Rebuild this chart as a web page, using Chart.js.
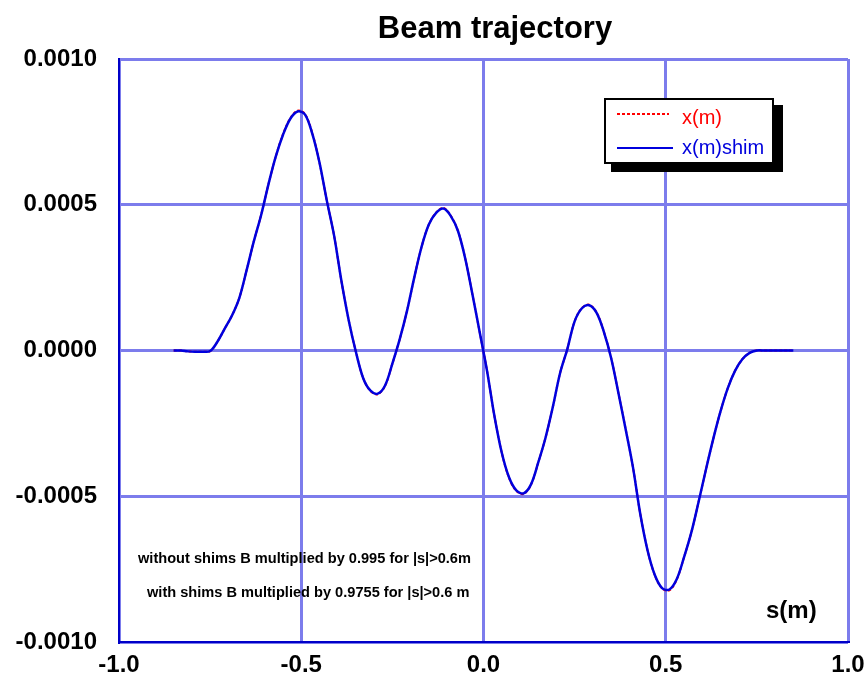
<!DOCTYPE html>
<html>
<head>
<meta charset="utf-8">
<script src="https://cdn.jsdelivr.net/npm/chart.js@4.4.1/dist/chart.umd.min.js"></script>
<style>
  html, body { margin: 0; padding: 0; background: #fff; }
  #wrap { width: 867px; height: 689px; position: relative; }
</style>
</head>
<body>
<div id="wrap"><canvas id="trajChart"></canvas></div>
<script>
// s positions (m)
const sPos = [
  -0.85, -0.83, -0.81, -0.79, -0.77, -0.75, -0.73, -0.71, -0.69, -0.67,
  -0.65, -0.63, -0.61, -0.59, -0.57, -0.55, -0.53, -0.51, -0.49, -0.47,
  -0.45, -0.43, -0.41, -0.39, -0.37, -0.35, -0.33, -0.31, -0.29, -0.27,
  -0.25, -0.23, -0.21, -0.19, -0.17, -0.15, -0.13, -0.11, -0.09, -0.07,
  -0.05, -0.03, -0.01, 0.01, 0.03, 0.05, 0.07, 0.09, 0.11, 0.13,
  0.15, 0.17, 0.19, 0.21, 0.23, 0.25, 0.27, 0.29, 0.31, 0.33,
  0.35, 0.37, 0.39, 0.41, 0.43, 0.45, 0.47, 0.49, 0.51, 0.53,
  0.55, 0.57, 0.59, 0.61, 0.63, 0.65, 0.67, 0.69, 0.71, 0.73,
  0.75, 0.77, 0.79, 0.81, 0.83, 0.85
];

// x(m) without shims
const xm = [
  0, 0, -0.000003, -0.000004, -0.000004, -0.000002, 0.000030, 0.000075, 0.000120, 0.000180,
  0.000275, 0.000375, 0.000465, 0.000570, 0.000665, 0.000742, 0.000797, 0.000823, 0.000812, 0.000747,
  0.000645, 0.000515, 0.000395, 0.000240, 0.000105, -0.000005, -0.000095, -0.000139, -0.000150, -0.000121,
  -0.000045, 0.000038, 0.000135, 0.000250, 0.000355, 0.000432, 0.000473, 0.000489, 0.000463, 0.000410,
  0.000315, 0.000190, 0.000060, -0.000072, -0.000225, -0.000350, -0.000437, -0.000482, -0.000492, -0.000461,
  -0.000385, -0.000300, -0.000195, -0.000078, 0.000005, 0.000100, 0.000146, 0.000157, 0.000131, 0.000065,
  -0.000025, -0.000145, -0.000270, -0.000400, -0.000560, -0.000685, -0.000771, -0.000816, -0.000823, -0.000786,
  -0.000710, -0.000625, -0.000520, -0.000410, -0.000305, -0.000210, -0.000130, -0.000070, -0.000030, -0.000008,
  0, 0, 0, 0, 0, 0
];

// x(m)shim
const xmShim = [
  0, 0, -0.000003, -0.000004, -0.000004, -0.000002, 0.000030, 0.000075, 0.000120, 0.000180,
  0.000275, 0.000375, 0.000465, 0.000570, 0.000665, 0.000740, 0.000795, 0.000820, 0.000810, 0.000745,
  0.000645, 0.000515, 0.000395, 0.000240, 0.000105, -0.000005, -0.000095, -0.000138, -0.000148, -0.000120,
  -0.000045, 0.000038, 0.000135, 0.000250, 0.000355, 0.000432, 0.000472, 0.000487, 0.000462, 0.000410,
  0.000315, 0.000190, 0.000060, -0.000072, -0.000225, -0.000350, -0.000435, -0.000480, -0.000490, -0.000460,
  -0.000385, -0.000300, -0.000195, -0.000078, 0.000005, 0.000100, 0.000145, 0.000155, 0.000130, 0.000065,
  -0.000025, -0.000145, -0.000270, -0.000400, -0.000560, -0.000685, -0.000770, -0.000815, -0.000820, -0.000785,
  -0.000710, -0.000625, -0.000520, -0.000410, -0.000305, -0.000210, -0.000130, -0.000070, -0.000030, -0.000008,
  0, 0, 0, 0, 0, 0
];

const xTicks = [-1.0, -0.5, 0.0, 0.5, 1.0];
const yTicks = [-0.0010, -0.0005, 0.0000, 0.0005, 0.0010];

const notes = [
  'without shims B multiplied by 0.995 for |s|>0.6m',
  'with shims B multiplied by 0.9755 for |s|>0.6 m'
];

const toPoints = vals => sPos.map((s, i) => ({ x: s, y: vals[i] }));

// title, notes, axis label and the boxed legend
const decorations = {
  id: 'decorations',
  afterDraw(chart) {
    const ctx = chart.ctx;
    ctx.save();
    ctx.fillStyle = '#000';
    ctx.textAlign = 'center';
    ctx.textBaseline = 'alphabetic';
    ctx.font = 'bold 31px Arial, "Liberation Sans", sans-serif';
    ctx.fillText('Beam trajectory', 495, 38);

    ctx.textAlign = 'left';
    ctx.font = 'bold 14.6px Arial, "Liberation Sans", sans-serif';
    ctx.fillText(notes[0], 138, 563);
    ctx.fillText(notes[1], 147, 597);

    ctx.font = 'bold 24px Arial, "Liberation Sans", sans-serif';
    ctx.fillText('s(m)', 766, 618);

    // legend box with shadow
    ctx.fillStyle = '#000';
    ctx.fillRect(611, 105, 172, 67);
    ctx.fillStyle = '#fff';
    ctx.fillRect(604, 98, 170, 66);
    ctx.strokeStyle = '#000';
    ctx.lineWidth = 2;
    ctx.strokeRect(605, 99, 168, 64);

    ctx.lineWidth = 2;
    ctx.strokeStyle = '#ff0000';
    ctx.setLineDash([3, 2]);
    ctx.beginPath();
    ctx.moveTo(617, 114);
    ctx.lineTo(669, 114);
    ctx.stroke();
    ctx.setLineDash([]);
    ctx.strokeStyle = '#0000dd';
    ctx.beginPath();
    ctx.moveTo(617, 148);
    ctx.lineTo(673, 148);
    ctx.stroke();

    ctx.font = '20px Arial, "Liberation Sans", sans-serif';
    ctx.textBaseline = 'middle';
    ctx.fillStyle = '#ff0000';
    ctx.fillText('x(m)', 682, 118);
    ctx.fillStyle = '#0000dd';
    ctx.fillText('x(m)shim', 682, 148);
    ctx.restore();
  }
};

const tickFont = { family: 'Arial, "Liberation Sans", sans-serif', size: 24, weight: 'bold' };

new Chart(document.getElementById('trajChart'), {
  type: 'line',
  data: {
    datasets: [
      {
        label: 'x(m)',
        data: toPoints(xm),
        borderColor: '#ff0000',
        borderWidth: 2,
        borderDash: [3, 2],
        pointRadius: 0,
        tension: 0.35,
        order: 2
      },
      {
        label: 'x(m)shim',
        data: toPoints(xmShim),
        borderColor: '#0000dd',
        borderWidth: 2.5,
        pointRadius: 0,
        tension: 0.35,
        order: 1
      }
    ]
  },
  options: {
    responsive: true,
    maintainAspectRatio: false,
    animation: false,
    layout: { padding: { top: 59, right: 19, left: 0, bottom: 0 } },
    plugins: {
      legend: { display: false },
      title: { display: false },
      tooltip: { enabled: false }
    },
    scales: {
      x: {
        type: 'linear',
        min: -1,
        max: 1,
        afterFit(scale) {
          scale.height = 47;
          scale.paddingLeft = 0;
          scale.paddingRight = 0;
        },
        afterBuildTicks(scale) { scale.ticks = xTicks.map(v => ({ value: v })); },
        ticks: {
          color: '#000',
          font: tickFont,
          padding: 9,
          maxRotation: 0,
          callback: v => v.toFixed(1)
        },
        grid: { color: '#7c7cec', lineWidth: 3, drawTicks: false },
        border: { color: '#0000c8', width: 2 }
      },
      y: {
        type: 'linear',
        min: -0.001,
        max: 0.001,
        afterFit(scale) {
          scale.width = 119;
          scale.paddingTop = 0;
          scale.paddingBottom = 0;
        },
        afterBuildTicks(scale) { scale.ticks = yTicks.map(v => ({ value: v })); },
        ticks: {
          color: '#000',
          font: tickFont,
          padding: 22,
          callback: v => v.toFixed(4)
        },
        grid: { color: '#7c7cec', lineWidth: 3, drawTicks: false },
        border: { color: '#0000c8', width: 2 }
      }
    }
  },
  plugins: [decorations]
});
</script>
</body>
</html>
